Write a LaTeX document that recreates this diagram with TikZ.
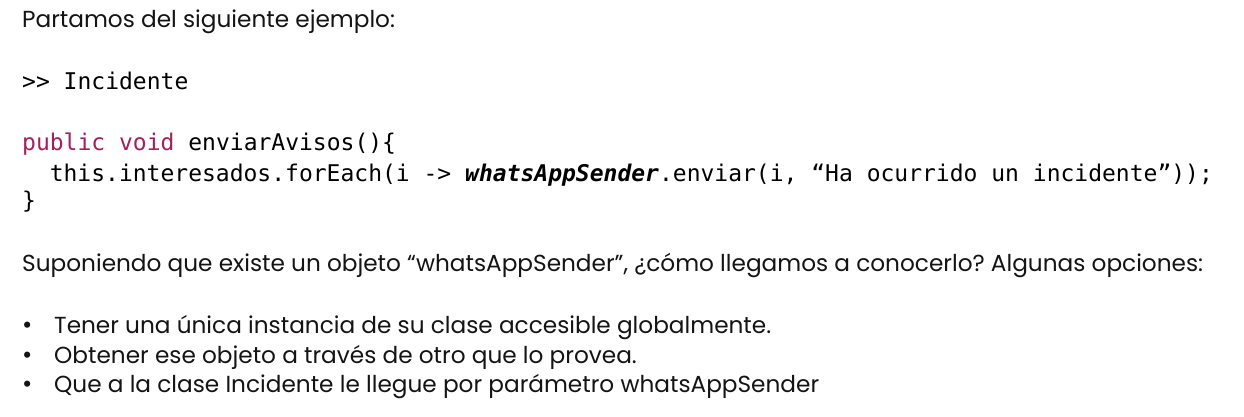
\documentclass[tikz,border=0pt]{standalone}
\usepackage{fontspec}
\setmainfont{Poppins}
\setmonofont{DejaVu Sans Mono}
\definecolor{kw}{RGB}{165,30,95}
\definecolor{ink}{RGB}{20,20,20}
\frenchspacing
\begin{document}
\begin{tikzpicture}[x=1pt,y=-1pt,
  txt/.style={anchor=base west, inner sep=0pt, text=ink, font=\fontsize{23.2}{27}\selectfont},
  bul/.style={anchor=base west, inner sep=0pt, text=ink, font=\fontsize{25}{29}\selectfont},
  code/.style={anchor=base west, inner sep=0pt, text=black, font=\ttfamily\fontsize{23}{28}\selectfont}]
\useasboundingbox[fill=white] (0,0) rectangle (1244,417);
\node[txt] (l1) at (22,28) {Partamos del siguiente ejemplo:};
\node[code] (l2) at (22,90) {>> Incidente};
\node[code] (l3) at (22,150) {\textcolor{kw}{public void} enviarAvisos()\{};
\node[code] (l4) at (49.6,181) {this.interesados.forEach(i -> \textbf{\textit{whatsAppSender}}.enviar(i, “Ha ocurrido un incidente”));};
\node[code] (l5) at (22,208) {\}};
\node[txt] (l6) at (22,271) {Suponiendo que existe un objeto “whatsAppSender”, ¿cómo llegamos a conocerlo? Algunas opciones:};
\node[bul] (b1) at (22,333) {•};
\node[txt] (t1) at (54,333) {Tener una única instancia de su clase accesible globalmente.};
\node[bul] (b2) at (22,363) {•};
\node[txt] (t2) at (54,363) {Obtener ese objeto a través de otro que lo provea.};
\node[bul] (b3) at (22,392) {•};
\node[txt] (t3) at (54,392) {Que a la clase Incidente le llegue por parámetro whatsAppSender};
\end{tikzpicture}
\end{document}
